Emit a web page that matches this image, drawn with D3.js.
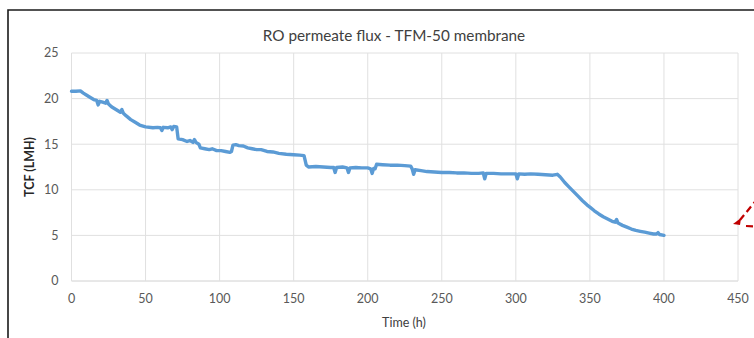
<!DOCTYPE html>
<html>
<head>
<meta charset="utf-8">
<script src="https://cdn.jsdelivr.net/npm/d3@7"></script>
<style>
  html, body { margin: 0; padding: 0; background: #fff; }
  svg { display: block; font-family: Lato, "Open Sans", sans-serif; }
  .tick-label { fill: #595959; font-size: 12.5px; }
</style>
</head>
<body>
<div id="chart"></div>
<script>
// --- data ---
const hours = [0, 3, 6, 8, 10, 13, 15, 17, 18, 19, 21, 23, 24, 25, 27, 30, 33, 34, 35, 37, 40, 43, 46, 50,
  55, 58, 60, 61, 62, 65, 67, 68, 69, 71, 72, 75, 78, 80, 82, 83, 84, 86, 87, 90, 93, 95, 98, 101, 104, 107, 108,
  109, 111, 113, 116, 119, 122, 125, 128, 132, 136, 140, 145, 150, 154, 157, 158.5, 160, 165, 170, 175, 177, 178,
  179, 183, 186, 187, 188, 192, 196, 200, 202, 203, 204, 205, 206, 210, 215, 220, 225, 229, 230, 231, 232, 236,
  240, 245, 250, 255, 260, 265, 270, 275, 278, 279, 280, 285, 290, 295, 300, 301, 302, 306, 310, 315, 320, 325,
  328, 330, 333, 336, 339, 342, 345, 348, 350, 353, 356, 359, 362, 365, 367, 368, 369, 372, 375, 378, 381, 384,
  387, 390, 393, 395, 396, 397, 400];
const tcf = [20.8, 20.8, 20.85, 20.6, 20.4, 20.1, 19.9, 19.8, 19.3, 19.7, 19.6, 19.5, 19.8, 19.4, 19.1, 18.8, 18.5, 18.8, 18.4, 18.1, 17.7, 17.4, 17.1, 16.9,
  16.8, 16.85, 16.8, 16.5, 16.85, 16.8, 16.9, 16.6, 16.95, 16.9, 15.6, 15.5, 15.3, 15.4, 15.2, 15.5, 15.2, 15.0, 14.6, 14.5, 14.4, 14.5, 14.3, 14.3, 14.2, 14.1, 14.2,
  14.9, 14.95, 14.85, 14.8, 14.6, 14.5, 14.4, 14.4, 14.2, 14.15, 14.0, 13.9, 13.85, 13.8, 13.75, 12.7, 12.5, 12.55, 12.5, 12.45, 12.45, 11.9,
  12.45, 12.5, 12.4, 11.9, 12.4, 12.45, 12.4, 12.4, 12.3, 11.8, 12.35, 12.3, 12.8, 12.75, 12.7, 12.7, 12.65, 12.6, 12.3, 11.7, 12.2, 12.1,
  12.0, 11.95, 11.9, 11.9, 11.85, 11.85, 11.8, 11.8, 11.85, 11.2, 11.8, 11.8, 11.75, 11.75, 11.75, 11.2, 11.75, 11.7, 11.75, 11.7, 11.65, 11.6,
  11.7, 11.4, 10.8, 10.3, 9.8, 9.3, 8.8, 8.35, 8.1, 7.7, 7.35, 7.05, 6.8, 6.55, 6.45, 6.75, 6.35, 6.1, 5.9, 5.7, 5.55, 5.45,
  5.35, 5.25, 5.15, 5.15, 5.3, 5.1, 5.0];
const xTicks = [0, 50, 100, 150, 200, 250, 300, 350, 400, 450];
const yTicks = [0, 5, 10, 15, 20, 25];
const title = "RO permeate flux - TFM-50 membrane";
const xTitle = "Time (h)";
const yTitle = "TCF (LMH)";

// --- sizing ---
const W = 754, H = 338;
const plot = { left: 71.5, right: 738, top: 53, bottom: 281 };

const svg = d3.select("#chart").append("svg")
  .attr("width", W)
  .attr("height", H);

svg.append("rect").attr("width", W).attr("height", H).attr("fill", "#fff");

// chart frame (only top and left edges are in view)
svg.append("path")
  .attr("d", `M8,${H} L8,10 L${W},10`)
  .attr("fill", "none")
  .attr("stroke", "#1a1a1a")
  .attr("stroke-width", 1.6);

const x = d3.scaleLinear().domain([0, 450]).range([plot.left, plot.right]);
const y = d3.scaleLinear().domain([0, 25]).range([plot.bottom, plot.top]);

// gridlines
const grid = svg.append("g").attr("class", "grid");
grid.selectAll(".hgrid")
  .data(yTicks)
  .enter().append("line")
  .attr("x1", plot.left).attr("x2", plot.right)
  .attr("y1", d => y(d)).attr("y2", d => y(d))
  .attr("stroke", d => d === 0 ? "#d0d0d0" : "#e0e0e0")
  .attr("stroke-width", 1);
grid.selectAll(".vgrid")
  .data(xTicks)
  .enter().append("line")
  .attr("y1", plot.top).attr("y2", plot.bottom)
  .attr("x1", d => x(d)).attr("x2", d => x(d))
  .attr("stroke", "#e0e0e0")
  .attr("stroke-width", 1);

// tick labels
svg.append("g").selectAll("text")
  .data(yTicks)
  .enter().append("text")
  .attr("class", "tick-label")
  .attr("x", plot.left - 13)
  .attr("y", d => y(d))
  .attr("dy", "0.35em")
  .attr("text-anchor", "end")
  .text(d => d);

svg.append("g").selectAll("text")
  .data(xTicks)
  .enter().append("text")
  .attr("class", "tick-label")
  .attr("x", d => x(d))
  .attr("y", 299)
  .attr("dy", "0.35em")
  .attr("text-anchor", "middle")
  .text(d => d);

// titles
svg.append("text")
  .attr("x", 394).attr("y", 36)
  .attr("dy", "0.35em")
  .attr("text-anchor", "middle")
  .attr("fill", "#404040")
  .style("font-size", "15.3px")
  .text(title);

svg.append("text")
  .attr("x", 404).attr("y", 323)
  .attr("dy", "0.35em")
  .attr("text-anchor", "middle")
  .attr("fill", "#404040")
  .style("font-size", "12.5px")
  .text(xTitle);

svg.append("text")
  .attr("transform", "translate(30,167) rotate(-90)")
  .attr("dy", "0.35em")
  .attr("text-anchor", "middle")
  .attr("fill", "#262626")
  .style("font-size", "12.5px")
  .style("font-weight", "bold")
  .text(yTitle);

// flux line
const pts = hours.map((h, i) => [h, tcf[i]]);
svg.append("path")
  .datum(pts)
  .attr("fill", "none")
  .attr("stroke", "#5b9bd5")
  .attr("stroke-width", 3.4)
  .attr("stroke-linejoin", "round")
  .attr("stroke-linecap", "round")
  .attr("d", d3.line().x(d => x(d[0])).y(d => y(d[1])));

// red dashed annotation arrow at the right edge
const arrow = svg.append("g")
  .attr("stroke", "#c00000")
  .attr("stroke-width", 2.2)
  .attr("fill", "none");
arrow.append("path")
  .attr("d", "M758,198 L740,220")
  .attr("stroke-dasharray", "7,4");
arrow.append("path")
  .attr("d", "M746,226 L758,226.5")
  .attr("stroke-dasharray", "7,4");
svg.append("path")
  .attr("d", "M733,224 L741,218 L740,225 Z")
  .attr("fill", "#c00000");
</script>
</body>
</html>
